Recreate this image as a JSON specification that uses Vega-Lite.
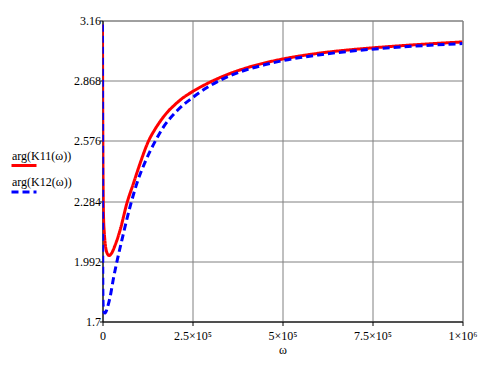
{
  "$schema": "https://vega.github.io/schema/vega-lite/v6.json",
  "autosize": {"type": "none"},
  "width": 360,
  "height": 301,
  "padding": {"left": 102.5, "top": 20.5, "right": 27.5, "bottom": 54.5},
  "background": "white",
  "config": {
    "view": {"stroke": "#808080", "strokeWidth": 1},
    "font": "Liberation Serif, Times New Roman, serif",
    "axis": {
      "gridColor": "#808080",
      "gridOpacity": 1,
      "gridWidth": 1,
      "domainColor": "black",
      "domainWidth": 1,
      "tickColor": "black",
      "labelColor": "black",
      "labelFont": "Liberation Serif, Times New Roman, serif",
      "labelFontSize": 12,
      "titleFont": "Liberation Serif, Times New Roman, serif",
      "titleFontWeight": "normal",
      "titleFontSize": 12,
      "titleColor": "black"
    },
    "legend": {
      "labelFont": "Liberation Serif, Times New Roman, serif",
      "labelFontSize": 12,
      "labelColor": "black"
    }
  },
  "data": {
    "values": [
      {"w": 0, "v": 3.14, "s": "arg(K11(ω))"},
      {"w": 300, "v": 2.9, "s": "arg(K11(ω))"},
      {"w": 1000, "v": 2.55, "s": "arg(K11(ω))"},
      {"w": 2000, "v": 2.3, "s": "arg(K11(ω))"},
      {"w": 3000, "v": 2.2, "s": "arg(K11(ω))"},
      {"w": 5000, "v": 2.13, "s": "arg(K11(ω))"},
      {"w": 8000, "v": 2.07, "s": "arg(K11(ω))"},
      {"w": 12000, "v": 2.035, "s": "arg(K11(ω))"},
      {"w": 18000, "v": 2.02, "s": "arg(K11(ω))"},
      {"w": 25000, "v": 2.03, "s": "arg(K11(ω))"},
      {"w": 35000, "v": 2.07, "s": "arg(K11(ω))"},
      {"w": 49000, "v": 2.144, "s": "arg(K11(ω))"},
      {"w": 68000, "v": 2.275, "s": "arg(K11(ω))"},
      {"w": 86000, "v": 2.37, "s": "arg(K11(ω))"},
      {"w": 105000, "v": 2.47, "s": "arg(K11(ω))"},
      {"w": 128000, "v": 2.576, "s": "arg(K11(ω))"},
      {"w": 145000, "v": 2.63, "s": "arg(K11(ω))"},
      {"w": 160000, "v": 2.67, "s": "arg(K11(ω))"},
      {"w": 180000, "v": 2.715, "s": "arg(K11(ω))"},
      {"w": 197000, "v": 2.745, "s": "arg(K11(ω))"},
      {"w": 220000, "v": 2.78, "s": "arg(K11(ω))"},
      {"w": 250000, "v": 2.815, "s": "arg(K11(ω))"},
      {"w": 300000, "v": 2.862, "s": "arg(K11(ω))"},
      {"w": 350000, "v": 2.9, "s": "arg(K11(ω))"},
      {"w": 400000, "v": 2.93, "s": "arg(K11(ω))"},
      {"w": 450000, "v": 2.954, "s": "arg(K11(ω))"},
      {"w": 500000, "v": 2.973, "s": "arg(K11(ω))"},
      {"w": 600000, "v": 3.001, "s": "arg(K11(ω))"},
      {"w": 700000, "v": 3.02, "s": "arg(K11(ω))"},
      {"w": 800000, "v": 3.034, "s": "arg(K11(ω))"},
      {"w": 900000, "v": 3.046, "s": "arg(K11(ω))"},
      {"w": 1000000, "v": 3.056, "s": "arg(K11(ω))"},
      {"w": 0, "v": 3.14, "s": "arg(K12(ω))"},
      {"w": 200, "v": 2.6, "s": "arg(K12(ω))"},
      {"w": 500, "v": 2.1, "s": "arg(K12(ω))"},
      {"w": 1000, "v": 1.85, "s": "arg(K12(ω))"},
      {"w": 2000, "v": 1.77, "s": "arg(K12(ω))"},
      {"w": 4000, "v": 1.745, "s": "arg(K12(ω))"},
      {"w": 7500, "v": 1.741, "s": "arg(K12(ω))"},
      {"w": 14000, "v": 1.77, "s": "arg(K12(ω))"},
      {"w": 21400, "v": 1.821, "s": "arg(K12(ω))"},
      {"w": 30500, "v": 1.91, "s": "arg(K12(ω))"},
      {"w": 40000, "v": 1.99, "s": "arg(K12(ω))"},
      {"w": 54000, "v": 2.096, "s": "arg(K12(ω))"},
      {"w": 77000, "v": 2.26, "s": "arg(K12(ω))"},
      {"w": 95500, "v": 2.37, "s": "arg(K12(ω))"},
      {"w": 120000, "v": 2.48, "s": "arg(K12(ω))"},
      {"w": 147000, "v": 2.576, "s": "arg(K12(ω))"},
      {"w": 170000, "v": 2.645, "s": "arg(K12(ω))"},
      {"w": 207000, "v": 2.722, "s": "arg(K12(ω))"},
      {"w": 251000, "v": 2.787, "s": "arg(K12(ω))"},
      {"w": 300000, "v": 2.845, "s": "arg(K12(ω))"},
      {"w": 350000, "v": 2.889, "s": "arg(K12(ω))"},
      {"w": 400000, "v": 2.921, "s": "arg(K12(ω))"},
      {"w": 450000, "v": 2.945, "s": "arg(K12(ω))"},
      {"w": 500000, "v": 2.965, "s": "arg(K12(ω))"},
      {"w": 600000, "v": 2.993, "s": "arg(K12(ω))"},
      {"w": 700000, "v": 3.013, "s": "arg(K12(ω))"},
      {"w": 800000, "v": 3.028, "s": "arg(K12(ω))"},
      {"w": 900000, "v": 3.039, "s": "arg(K12(ω))"},
      {"w": 1000000, "v": 3.048, "s": "arg(K12(ω))"}
    ]
  },
  "mark": {"type": "line", "strokeWidth": 3, "clip": true, "interpolate": "monotone"},
  "encoding": {
    "x": {
      "field": "w",
      "type": "quantitative",
      "scale": {"domain": [0, 1000000], "nice": false, "zero": false},
      "axis": {
        "values": [0, 250000, 500000, 750000, 1000000],
        "labelExpr": "datum.value == 0 ? '0' : datum.value == 250000 ? '2.5×10⁵' : datum.value == 500000 ? '5×10⁵' : datum.value == 750000 ? '7.5×10⁵' : '1×10⁶'",
        "title": "ω",
        "tickSize": 4,
        "labelPadding": 5,
        "titlePadding": 3,
        "labelFlush": false
      }
    },
    "y": {
      "field": "v",
      "type": "quantitative",
      "scale": {"domain": [1.7, 3.16], "nice": false, "zero": false},
      "axis": {
        "values": [1.7, 1.992, 2.284, 2.576, 2.868, 3.16],
        "format": ".4~f",
        "title": null,
        "tickSize": 3,
        "labelPadding": -1,
        "labelFlush": false
      }
    },
    "color": {
      "field": "s",
      "type": "nominal",
      "scale": {"domain": ["arg(K11(ω))", "arg(K12(ω))"], "range": ["#ff0000", "#0000ff"]},
      "legend": {
        "title": null,
        "orient": "none",
        "legendX": -92.5,
        "legendY": 131,
        "symbolType": "stroke",
        "symbolSize": 625,
        "symbolStrokeWidth": 3,
        "labelOffset": -26,
        "labelBaseline": "middle",
        "rowPadding": 4.5,
        "encode": {"labels": {"update": {"dy": {"value": -10}}}}
      }
    },
    "strokeDash": {
      "field": "s",
      "type": "nominal",
      "scale": {"domain": ["arg(K11(ω))", "arg(K12(ω))"], "range": [[1, 0], [7, 4]]},
      "legend": {
        "title": null,
        "orient": "none",
        "legendX": -92.5,
        "legendY": 131,
        "symbolType": "stroke",
        "symbolSize": 625,
        "symbolStrokeWidth": 3,
        "labelOffset": -26,
        "labelBaseline": "middle",
        "rowPadding": 4.5,
        "encode": {"labels": {"update": {"dy": {"value": -10}}}}
      }
    }
  }
}
